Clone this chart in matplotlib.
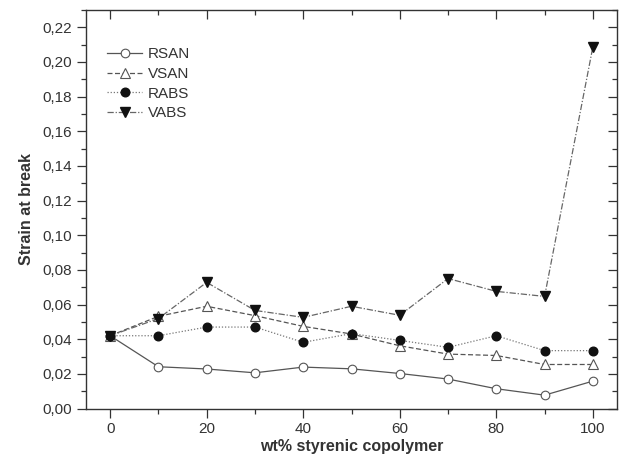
import matplotlib
matplotlib.use("Agg")
import matplotlib.pyplot as plt
from matplotlib.ticker import MultipleLocator, FuncFormatter

plt.rcParams['font.family'] = ['Liberation Sans', 'DejaVu Sans']

x = [0, 10, 20, 30, 40, 50, 60, 70, 80, 90, 100]
rsan = [0.042, 0.0241, 0.0228, 0.0206, 0.0239, 0.0229, 0.0202, 0.0170, 0.0114, 0.0077, 0.0158]
vsan = [0.042, 0.0532, 0.0590, 0.0536, 0.0474, 0.0430, 0.0362, 0.0314, 0.0306, 0.0254, 0.0254]
rabs = [0.042, 0.0420, 0.0470, 0.0470, 0.0382, 0.0432, 0.0393, 0.0353, 0.0420, 0.0334, 0.0334]
vabs = [0.042, 0.0519, 0.0728, 0.0566, 0.0526, 0.0590, 0.0538, 0.0750, 0.0676, 0.0647, 0.2087]

fig = plt.figure(figsize=(6.21, 4.61), dpi=100)
ax = fig.add_axes([86/621, 1-408.5/461, (617-86)/621, (408.5-10)/461])

ax.plot(x, rsan, color='#555555', lw=0.9, ls='-', marker='o', ms=6.2,
        mfc='white', mec='#555555', mew=0.8, label='RSAN')
ax.plot(x, vsan, color='#555555', lw=0.9, ls=(0, (4, 2)), marker='^', ms=7,
        mfc='white', mec='#555555', mew=0.8, label='VSAN')
ax.plot(x, rabs, color='#777777', lw=0.9, ls=(0, (1, 1.5)), marker='o', ms=6.2,
        mfc='#111111', mec='#111111', label='RABS')
ax.plot(x, vabs, color='#666666', lw=0.9, ls=(0, (5, 1.5, 1, 1.5)), marker='v', ms=7,
        mfc='#111111', mec='#111111', label='VABS')

ax.set_xlim(-5, 105)
ax.set_ylim(0, 0.23)
ax.xaxis.set_major_locator(MultipleLocator(20))
ax.xaxis.set_minor_locator(MultipleLocator(10))
ax.yaxis.set_major_locator(MultipleLocator(0.02))
ax.yaxis.set_minor_locator(MultipleLocator(0.01))
ax.yaxis.set_major_formatter(FuncFormatter(lambda v, p: f"{v:.2f}".replace('.', ',')))

ax.tick_params(which='both', top=True, right=True, labelsize=11, colors='#333333')
ax.tick_params(which='major', length=6.5, width=0.9)
ax.tick_params(which='minor', length=3.6, width=0.9)
ax.tick_params(axis='both', which='both', direction='out')
# top and right ticks point inward
for t in ax.xaxis.get_major_ticks() + ax.xaxis.get_minor_ticks():
    t.tick2line.set_marker(3)
for t in ax.yaxis.get_major_ticks() + ax.yaxis.get_minor_ticks():
    t.tick2line.set_marker(0)

for s in ax.spines.values():
    s.set_linewidth(1.0)
    s.set_color('#333333')

ax.set_xlabel('wt% styrenic copolymer', fontsize=11.5, fontweight='bold', color='#333333', labelpad=2)
ax.set_ylabel('Strain at break', fontsize=11.5, fontweight='bold', color='#333333', labelpad=6)

leg = ax.legend(loc='upper left', bbox_to_anchor=((107-86)/531, (408.5-47.5)/398.5), frameon=False,
                fontsize=11, borderpad=0, borderaxespad=0,
                handlelength=2.3, handletextpad=0.35, labelspacing=0.37)
for t in leg.get_texts():
    t.set_color('#333333')

fig.savefig('out.png', dpi=100)
